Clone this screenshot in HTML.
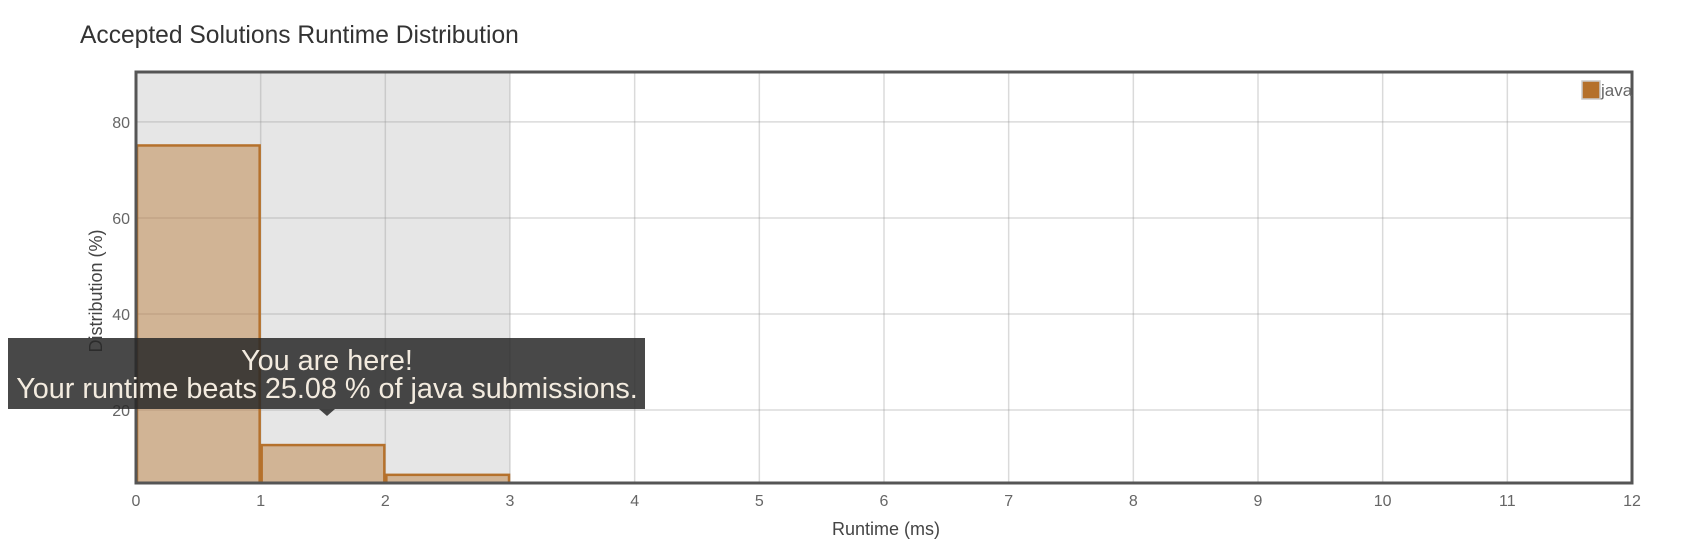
<!DOCTYPE html>
<html><head><meta charset="utf-8"><style>
body{margin:0;background:#fff;font-family:"Liberation Sans",sans-serif;}
svg text{font-family:"Liberation Sans",sans-serif;}
</style></head><body>
<svg id="chart" width="1695" height="546">
<text x="80" y="43" font-size="24.6" fill="#333">Accepted Solutions Runtime Distribution</text>
<g id="plot"></g>
</svg>
<script>
const xTicks=[0,1,2,3,4,5,6,7,8,9,10,11,12];
const yTicks=[20,40,60,80];
const binStarts=[0,1,2];
const binValues=[75.1,12.7,6.5];
const shadeEnd=3;
const X0=136,X1=1632,Y0=483,Y1=72,XMIN=0,XMAX=12,YMIN=4.8,YMAX=90.4;
const sx=v=>X0+(v-XMIN)/(XMAX-XMIN)*(X1-X0);
const sy=v=>Y0-(v-YMIN)/(YMAX-YMIN)*(Y0-Y1);
const NS="http://www.w3.org/2000/svg";
const g=document.getElementById('plot');
function mk(t,a){const e=document.createElementNS(NS,t);for(const k in a)e.setAttribute(k,a[k]);g.appendChild(e);return e;}
let e=mk('rect',{x:sx(0),y:Y1,width:sx(shadeEnd)-sx(0),height:Y0-Y1,fill:'#e6e6e6'});


xTicks.forEach(t=>{
 const l=mk('line',{x1:sx(t),x2:sx(t),y1:Y1,y2:Y0,stroke:'rgba(150,150,150,0.35)','stroke-width':1.5});
 
 
 const tx=mk('text',{x:sx(t),y:506,'font-size':16,fill:'#666','text-anchor':'middle'});
 tx.textContent=t;
 
 
});
yTicks.forEach(t=>{
 const l=mk('line',{x1:X0,x2:X1,y1:sy(t),y2:sy(t),stroke:'rgba(150,150,150,0.35)','stroke-width':1.5});
 
 
 const tx=mk('text',{x:130,y:sy(t)+6,'font-size':16,fill:'#666','text-anchor':'end'});
 tx.textContent=t;
 
 
});
binStarts.forEach((b,i)=>{
 const r=mk('rect',{x:sx(b)+1,y:sy(binValues[i]),width:sx(b+1)-sx(b)-2,height:Y0-sy(binValues[i]),fill:'rgba(185,120,50,0.45)',stroke:'#b5712c','stroke-width':2.5});
 
 
});
e=mk('rect',{x:X0,y:Y1,width:X1-X0,height:Y0-Y1,fill:'none',stroke:'#555','stroke-width':3});


e=mk('text',{x:886,y:535,'font-size':18,fill:'#444','text-anchor':'middle'});
e.textContent='Runtime (ms)';


e=mk('text',{x:0,y:0,'font-size':18,fill:'#444','text-anchor':'middle',transform:'translate(102,291) rotate(-90)'});
e.textContent='Distribution (%)';


e=mk('rect',{x:1582,y:81,width:18,height:18,fill:'#b5712c',stroke:'#ccc','stroke-width':1.5});


e=mk('text',{x:1601,y:96,'font-size':17,fill:'#666'});
e.textContent='java';


e=mk('rect',{x:8,y:338,width:637,height:71,fill:'rgba(40,40,40,0.85)'});


e=mk('polygon',{points:'319,409 335,409 327,416',fill:'rgba(40,40,40,0.85)'});


e=mk('text',{x:327,y:370,'font-size':28.8,fill:'#f3ebdf','text-anchor':'middle'});
e.textContent='You are here!';


e=mk('text',{x:327,y:398,'font-size':28.8,fill:'#f3ebdf','text-anchor':'middle'});
e.textContent='Your runtime beats 25.08 % of java submissions.';


</script>
</body></html>
